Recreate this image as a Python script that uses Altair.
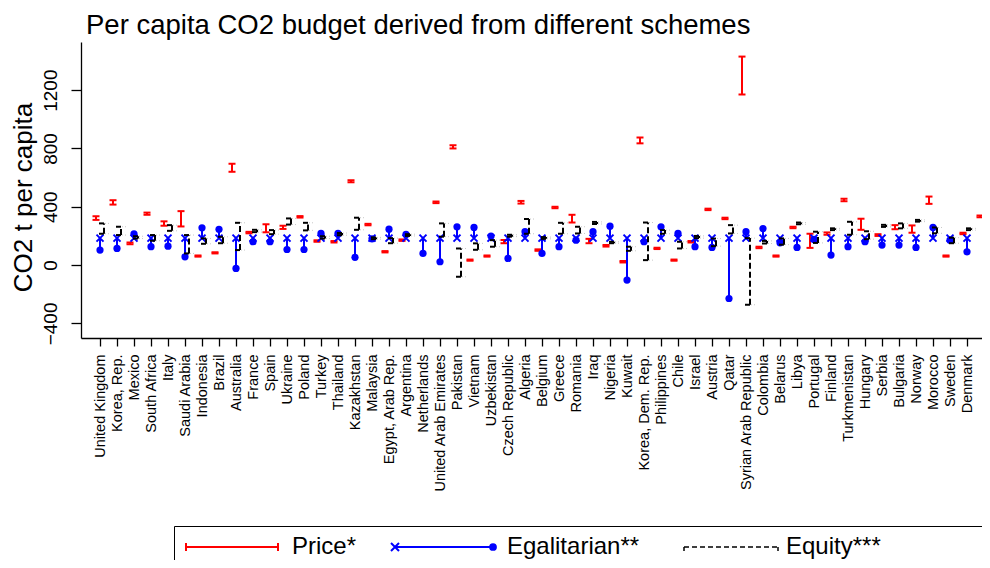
import json
import altair as alt
import pandas as pd

# ---------------- data ----------------
countries = ["United Kingdom", "Korea, Rep.", "Mexico", "South Africa", "Italy", "Saudi Arabia",
             "Indonesia", "Brazil", "Australia", "France", "Spain", "Ukraine", "Poland", "Turkey",
             "Thailand", "Kazakhstan", "Malaysia", "Egypt, Arab Rep.", "Argentina", "Netherlands",
             "United Arab Emirates", "Pakistan", "Vietnam", "Uzbekistan", "Czech Republic", "Algeria",
             "Belgium", "Greece", "Romania", "Iraq", "Nigeria", "Kuwait", "Korea, Dem. Rep.",
             "Philippines", "Chile", "Israel", "Austria", "Qatar", "Syrian Arab Republic", "Colombia",
             "Belarus", "Libya", "Portugal", "Finland", "Turkmenistan", "Hungary", "Serbia", "Bulgaria",
             "Norway", "Morocco", "Sweden", "Denmark", ""]

price_low = [310, 415, 143, 345, 270, 265, 58, 80, 640, 218, 225, 248, 326, 160, 155, 568, 273, 87,
             166, None, 425, 800, 30, 58, 150, 422, 98, 390, 292, 150, 127, 18, 835, 110, 30, 155,
             377, 315, 1170, 116, 58, 253, 118, 208, 438, 242, 200, 246, 222, 420, 58, 212, 328]
price_high = [335, 445, 155, 360, 300, 370, 66, 88, 695, 228, 280, 270, 336, 170, 165, 582, 283, 96,
              176, None, 436, 822, 38, 66, 172, 440, 108, 400, 345, 180, 138, 28, 875, 119, 38, 165,
              387, 325, 1430, 126, 66, 263, 215, 224, 455, 318, 212, 274, 272, 470, 66, 222, 340]

egal_value = [103, 114, 214, 126, 130, 57, 256, 245, -23, 160, 160, 107, 107, 217, 217, 53, 180, 246,
              210, 80, 23, 263, 258, 199, 46, 229, 80, 126, 171, 229, 267, -103, 160, 263, 217, 126,
              121, -229, 229, 251, 153, 121, 176, 69, 126, 160, 137, 137, 121, 258, 171, 91, None]
egal_start = 185

equity_low = [215, 206, 182, 167, 235, 80, 146, 150, 103, 226, 212, 278, 238, 182, 205, 242, 178, 150,
              200, None, 195, -80, 105, 126, 195, 215, 180, 215, 217, 282, 150, 98, 34, 215, 114, 185,
              130, 217, -272, 148, 140, 280, 152, 240, 208, 178, 262, 252, 298, 218, 150, 240, 215]
equity_high = [286, 263, 198, 206, 274, 206, 183, 194, 290, 242, 240, 320, 290, 198, 220, 325, 190, 185,
               212, None, 286, 114, 149, 171, 208, 316, 192, 290, 263, 296, 160, 126, 292, 240, 160, 200,
               182, 274, 185, 166, 183, 292, 229, 252, 297, 232, 276, 286, 310, 258, 188, 252, 295]

series_names = ["Price*", "Egalitarian**", "Equity***"]

# ---------------- styling ----------------
FONT = "Liberation Sans"
RED, BLUE, BLACK = "#ff0000", "#0000ff", "#000000"
XPATH = "M-1,-1L1,1M-1,1L1,-1"

df = pd.DataFrame({
    "idx": list(range(len(countries))),
    "country": countries,
    "plo": price_low, "phi": price_high,
    "egal": egal_value,
    "elo": equity_low, "ehi": equity_high,
})
df["ebase"] = [egal_start if v is not None else None for v in egal_value]

n_lab = sum(1 for c in countries if c)
label_js = json.dumps(countries[:n_lab])

PX_PER = 17.0
PLOT_W, PLOT_H = 901, 296
x_min = -19.0 / PX_PER
x_max = x_min + PLOT_W / PX_PER

x_enc = alt.X(
    "idx:Q",
    scale=alt.Scale(domain=[x_min, x_max], nice=False, zero=False),
    axis=alt.Axis(values=list(range(n_lab)), labelExpr=f"{label_js}[datum.value]", title=None,
                  labelAngle=270, labelAlign="right", labelBaseline="middle", labelFontSize=14.5,
                  labelFont=FONT, labelColor=BLACK, labelPadding=8, tickSize=8, labelOverlap=False,
                  labelFlush=False, labelBound=False, grid=False, domainColor=BLACK, tickColor=BLACK,
                  domainWidth=1.3, tickWidth=1.3),
)
yscale = alt.Scale(domain=[-500, 1530], nice=False, zero=False)
yaxis = alt.Axis(values=[-400, 0, 400, 800, 1200], format="d", title="CO2 t per capita", grid=False,
                 labelAngle=270, labelAlign="center", labelBaseline="alphabetic", labelFontSize=19,
                 labelFont=FONT, labelColor=BLACK, labelPadding=15, tickSize=10,
                 domainColor=BLACK, tickColor=BLACK, domainWidth=1.3, tickWidth=1.3,
                 titleFont=FONT, titleFontSize=26, titleFontWeight="normal", titleColor=BLACK,
                 titleAngle=270, titleAlign="center", titleBaseline="alphabetic", titleX=-50, titleY=155)


def Y(f):
    return alt.Y(f"{f}:Q", scale=yscale, axis=yaxis)


base = alt.Chart(df).encode(x=x_enc)

# Price ranges (red capped bars)
price_bar = base.mark_rule(color=RED, strokeWidth=2, xOffset=-4).encode(y=Y("plo"), y2="phi")
price_cap_lo = base.mark_rule(color=RED, strokeWidth=2, xOffset=-7.5, x2Offset=-0.5).encode(
    x2="idx", y=Y("plo"))
price_cap_hi = base.mark_rule(color=RED, strokeWidth=2, xOffset=-7.5, x2Offset=-0.5).encode(
    x2="idx", y=Y("phi"))

# Egalitarian (blue X to dot)
egal_stem = base.mark_rule(color=BLUE, strokeWidth=2).encode(y=Y("ebase"), y2="egal")
egal_x = base.mark_point(shape=XPATH, filled=False, color=BLUE, strokeWidth=2, size=49,
                         opacity=1).encode(y=Y("ebase"))
egal_dot = base.mark_circle(color=BLUE, size=52, opacity=1).encode(y=Y("egal"))

# Equity ranges (black dashed brackets)
eq_bar = base.mark_rule(color=BLACK, strokeWidth=2, strokeDash=[6, 3], xOffset=4).encode(
    y=Y("elo"), y2="ehi")
eq_cap_lo = base.mark_rule(color=BLACK, strokeWidth=2, xOffset=-1, x2Offset=4).encode(
    x2="idx", y=Y("elo"))
eq_cap_hi = base.mark_rule(color=BLACK, strokeWidth=2, xOffset=-1, x2Offset=4).encode(
    x2="idx", y=Y("ehi"))
eq_tail_lo = base.mark_rule(color="#c8c8c8", strokeWidth=1, strokeDash=[1, 2], xOffset=5,
                            x2Offset=10).encode(x2="idx", y=Y("elo"))
eq_tail_hi = base.mark_rule(color="#c8c8c8", strokeWidth=1, strokeDash=[1, 2], xOffset=5,
                            x2Offset=10).encode(x2="idx", y=Y("ehi"))

# ---------------- legend (drawn below the axis) ----------------
one = alt.Chart(pd.DataFrame({"k": [0]}))
LY = 505
FS = 24
leg = [
    one.mark_rect(fillOpacity=0, stroke=BLACK, strokeWidth=1).encode(
        x=alt.value(93.5), x2=alt.value(1000), y=alt.value(484.5), y2=alt.value(700)),
    one.mark_rule(color=RED, strokeWidth=2).encode(x=alt.value(105), x2=alt.value(197), y=alt.value(LY)),
    one.mark_rule(color=RED, strokeWidth=2).encode(x=alt.value(105), y=alt.value(LY - 4), y2=alt.value(LY + 4)),
    one.mark_rule(color=RED, strokeWidth=2).encode(x=alt.value(197), y=alt.value(LY - 4), y2=alt.value(LY + 4)),
    one.mark_text(align="left", baseline="middle", fontSize=FS, font=FONT, color=BLACK).encode(
        x=alt.value(211), y=alt.value(LY), text=alt.value(series_names[0])),
    one.mark_rule(color=BLUE, strokeWidth=2).encode(x=alt.value(314), x2=alt.value(412), y=alt.value(LY)),
    one.mark_point(shape=XPATH, filled=False, color=BLUE, strokeWidth=2, size=64, opacity=1).encode(
        x=alt.value(314), y=alt.value(LY)),
    one.mark_circle(color=BLUE, size=60, opacity=1).encode(x=alt.value(412), y=alt.value(LY)),
    one.mark_text(align="left", baseline="middle", fontSize=FS, font=FONT, color=BLACK).encode(
        x=alt.value(426), y=alt.value(LY), text=alt.value(series_names[1])),
    one.mark_rule(color=BLACK, strokeWidth=1.5, strokeDash=[5, 3]).encode(
        x=alt.value(603), x2=alt.value(697), y=alt.value(LY)),
    one.mark_rule(color=BLACK, strokeWidth=1.5).encode(x=alt.value(603), y=alt.value(LY), y2=alt.value(LY + 4)),
    one.mark_rule(color=BLACK, strokeWidth=1.5).encode(x=alt.value(697), y=alt.value(LY), y2=alt.value(LY + 4)),
    one.mark_text(align="left", baseline="middle", fontSize=FS, font=FONT, color=BLACK).encode(
        x=alt.value(705), y=alt.value(LY), text=alt.value(series_names[2])),
]

chart = alt.layer(
    price_bar, price_cap_lo, price_cap_hi,
    egal_stem, egal_x, egal_dot,
    eq_bar, eq_cap_lo, eq_cap_hi, eq_tail_lo, eq_tail_hi,
    *leg,
).properties(
    width=PLOT_W, height=PLOT_H,
    title=alt.TitleParams("Per capita CO2 budget derived from different schemes", anchor="start",
                          frame="group", font=FONT, fontSize=27.5, fontWeight="normal", color=BLACK,
                          baseline="alphabetic", offset=11, dx=5, dy=30),
    padding={"left": 73, "top": 34, "right": 0, "bottom": 222},
    autosize=alt.AutoSizeParams(type="none"),
).configure(background="white").configure_view(strokeWidth=0, stroke="transparent")

chart.save("out.html", embed_options={"renderer": "svg", "actions": False})
